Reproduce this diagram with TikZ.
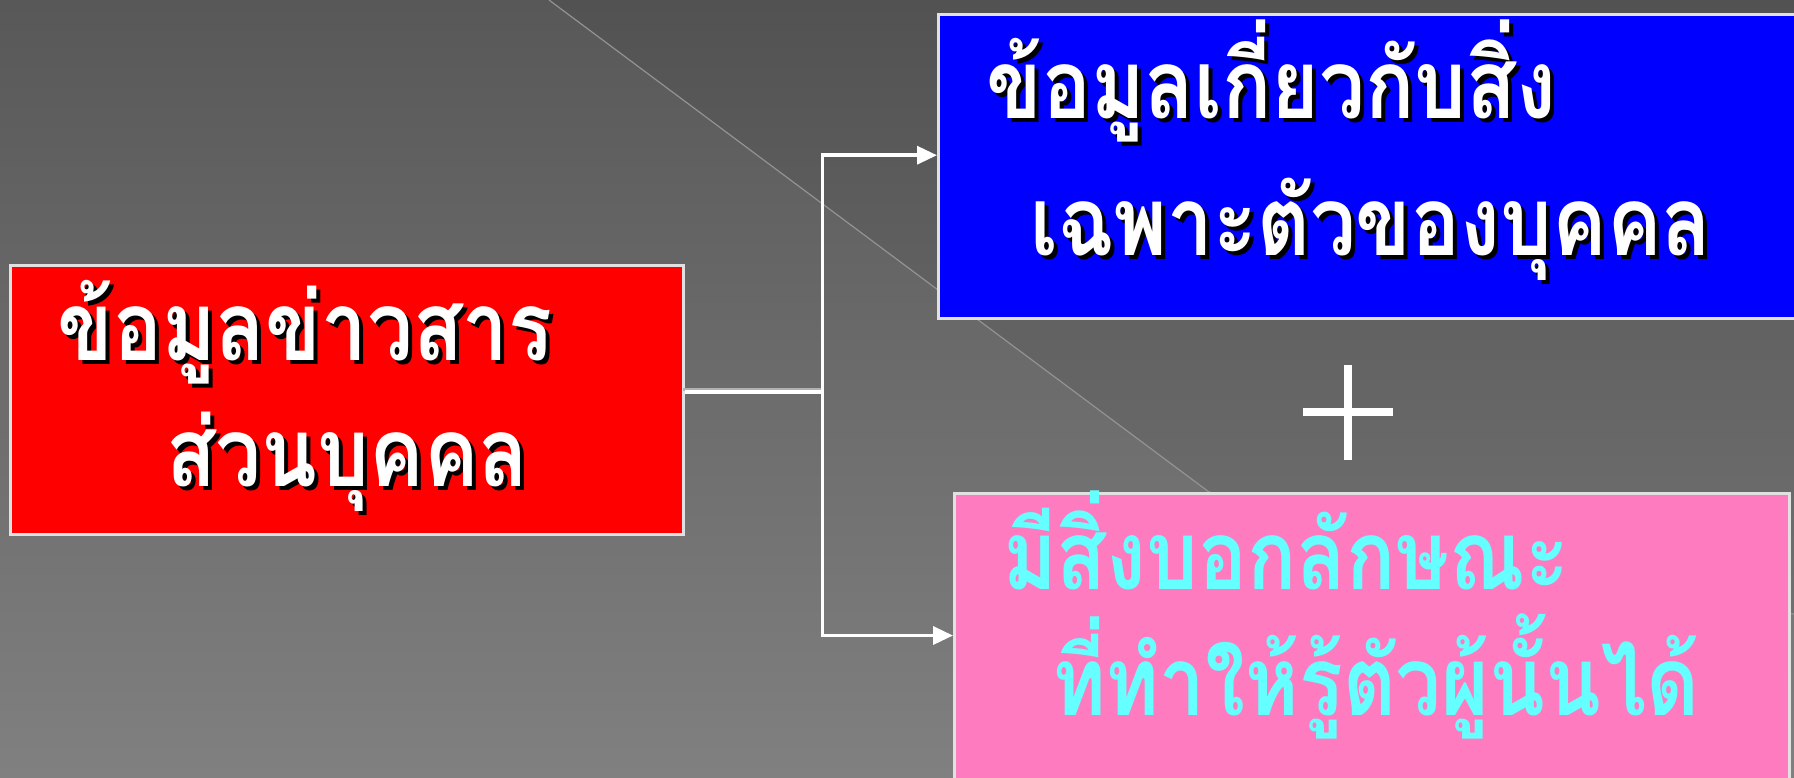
\documentclass[tikz,border=0pt]{standalone}
\usepackage{fontspec}
\newfontfamily\thaifont[Script=Thai,FakeStretch=0.85]{Loma}
\usetikzlibrary{calc,positioning,arrows.meta}
\definecolor{bgTop}{RGB}{88,88,88}
\definecolor{bgBot}{RGB}{128,128,128}
\definecolor{edgeGray}{RGB}{225,225,225}
\definecolor{pinkFill}{RGB}{255,123,191}
\definecolor{cyanText}{RGB}{102,255,255}

\begin{document}
\begin{tikzpicture}[x=1pt,y=-1pt,
    box/.style={draw=edgeGray,line width=2.5pt,anchor=north west,inner sep=0pt},
    txt/.style={anchor=base west,inner sep=0pt,font=\thaifont\bfseries\fontsize{96}{110}\selectfont},
    conn/.style={draw=white,line width=3.5pt},
    tip/.style={-{Triangle[length=20pt,width=18pt]}}]
       %背景
       \useasboundingbox (0,0) rectangle (1794,777);
       \shade[top color=bgTop,bottom color=bgBot] (0,0) rectangle (1794,777);
       \fill[black,opacity=0.06] (549,0) -- (1209,492) -- (1794,614) -- (1794,0) -- cycle;
       \draw[gray!85!white,line width=1.2pt] (549,0) -- (1209,492) -- (1794,614);

       %方塊
       \node[box,fill=red,minimum width=673pt,minimum height=269pt] (nInfo) at (9,264) {};
       \node[box,fill=blue,minimum width=880pt,minimum height=304pt] (nSpecific) at (937,13) {};
       \node[box,fill=pinkFill,minimum width=835pt,minimum height=320pt] (nTrait) at (953,492) {};

       %連接線
       \coordinate (cOut) at ([yshift=8pt]nInfo.east);
       \coordinate (cJoin) at ($(cOut)+(138,0)$);
       \coordinate (cUp) at ($(nSpecific.north west)!0.464!(nSpecific.south west)$);
       \coordinate (cDown) at ($(nTrait.north west)!0.445!(nTrait.south west)$);
       \draw[gray!60,line width=3pt] ([shift={(-2,-2)}]cOut) -- ([shift={(-2,-2)}]cJoin);
       \draw[conn] (cOut) -- (cJoin);
       \draw[conn,tip] (cJoin) |- (cUp);
       \draw[conn,tip] (cJoin) |- (cDown);

       %加號
       \coordinate (cPlus) at (1348,412);
       \draw[white,line width=8pt] ($(cPlus)+(-45,0)$) -- ($(cPlus)+(45,0)$);
       \draw[white,line width=8pt] ($(cPlus)+(0,-47)$) -- ($(cPlus)+(0,48)$);

       %文字
       \foreach \n/\x/\y/\t in
       {a/57/360/ข้อมูลข่าวสาร,
           b/166/486/ส่วนบุคคล,
           c/986/118/ข้อมูลเกี่ยวกับสิ่ง,
           d/1030/255/เฉพาะตัวของบุคคล
        }
        {
            \node[txt,black] (s\n) at (\x+4,\y+4) {\t};
            \node[txt,white] (t\n) at (\x,\y) {\t};
        };
       \node[txt,cyanText] (te) at (1003,589) {มีสิ่งบอกลักษณะ};
       \node[txt,cyanText] (tf) at (1052,715) {ที่ทำให้รู้ตัวผู้นั้นได้};
        %
\end{tikzpicture}
\end{document}
